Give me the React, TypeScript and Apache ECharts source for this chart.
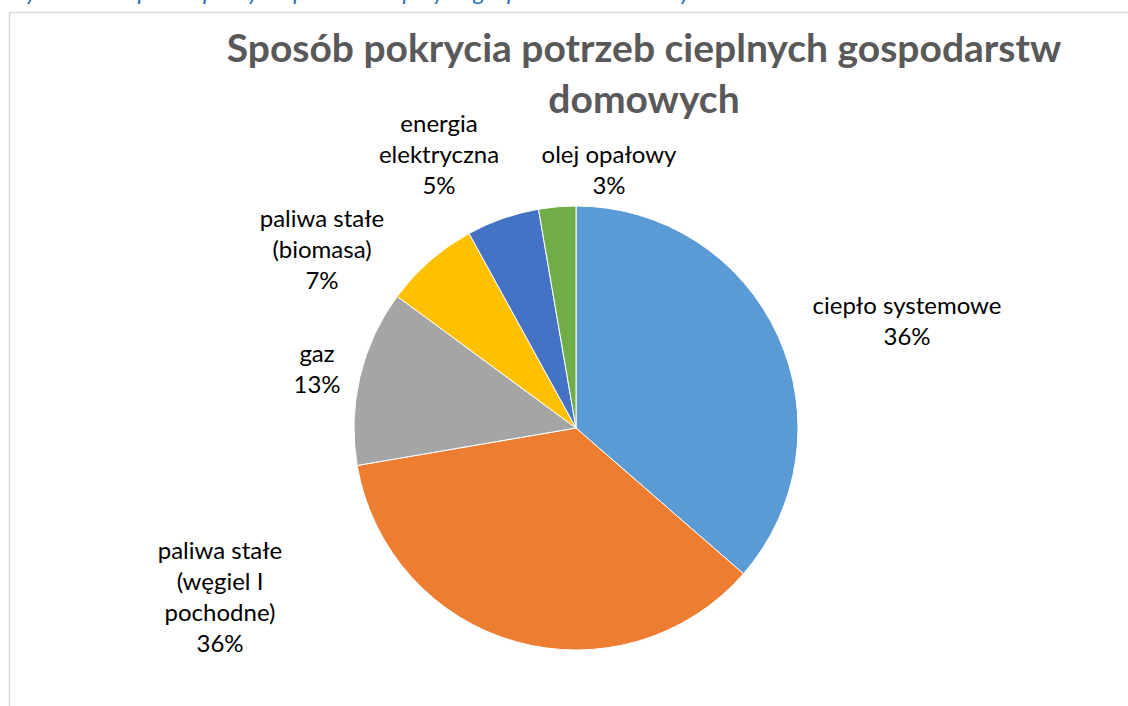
import React, { useEffect, useRef } from "react";
import * as echarts from "echarts";

const categories = [
  "ciepło systemowe",
  "paliwa stałe\n(węgiel I\npochodne)",
  "gaz",
  "paliwa stałe\n(biomasa)",
  "energia\nelektryczna",
  "olej opałowy",
];
const values = [36.4, 35.9, 12.8, 6.9, 5.3, 2.7];
const colors = ["#5B9BD5", "#ED7D31", "#A5A5A5", "#FFC000", "#4472C4", "#70AD47"];
const titleLines = ["Sposób pokrycia potrzeb cieplnych gospodarstw", "domowych"];
const captionText = "Rysunek 4. Sposób pokrycia potrzeb cieplnych gospodarstw domowych";

// label anchor centres (Excel best-fit placement)
const labelPos: [number, number][] = [
  [907, 320],
  [220, 596],
  [317, 368],
  [322, 248],
  [439, 153],
  [609, 169],
];

export default function App() {
  const ref = useRef<HTMLDivElement>(null);
  useEffect(() => {
    if (!ref.current) return;
    const chart = echarts.init(ref.current, null, { renderer: "svg" });
    chart.setOption({
      animation: false,
      backgroundColor: "#ffffff",
      graphic: [
        {
          type: "polyline",
          shape: { points: [[9.5, 706], [9.5, 12.5], [1128, 12.5]] },
          style: { stroke: "#d9d9d9", lineWidth: 1.5, fill: null },
          silent: true,
        },
        {
          type: "text",
          x: 12,
          y: 2,
          style: {
            text: captionText,
            font: "italic 24px Lato",
            fill: "#2E74B5",
            textAlign: "left",
            textVerticalAlign: "bottom",
          },
          silent: true,
        },
        {
          type: "text",
          x: 644,
          y: 47,
          style: {
            text: titleLines[0],
            font: "bold 39px Lato",
            fill: "#595959",
            textAlign: "center",
            textVerticalAlign: "middle",
          },
        },
        {
          type: "text",
          x: 644,
          y: 98,
          style: {
            text: titleLines[1],
            font: "bold 39px Lato",
            fill: "#595959",
            textAlign: "center",
            textVerticalAlign: "middle",
          },
        },
      ],
      series: [
        {
          type: "pie",
          center: [576, 428],
          radius: 222,
          startAngle: 90,
          clockwise: true,
          color: colors,
          itemStyle: { borderColor: "#ffffff", borderWidth: 1 },
          label: {
            show: true,
            position: "outside",
            formatter: (p: any) => `${p.name}\n${Math.round(p.value)}%`,
            fontFamily: "Lato",
            fontSize: 24,
            lineHeight: 31,
            color: "#000000",
            align: "center",
          },
          labelLine: { show: false },
          labelLayout: (params: any) => {
            const pos = labelPos[params.dataIndex];
            return { x: pos[0], y: pos[1], align: "center", verticalAlign: "middle" };
          },
          data: categories.map((name, i) => ({ name, value: values[i] })),
        },
      ],
    });
    return () => chart.dispose();
  }, []);
  return (
    <div
      ref={ref}
      style={{ position: "fixed", left: 0, top: 0, width: 1128, height: 706, background: "#fff" }}
    />
  );
}
